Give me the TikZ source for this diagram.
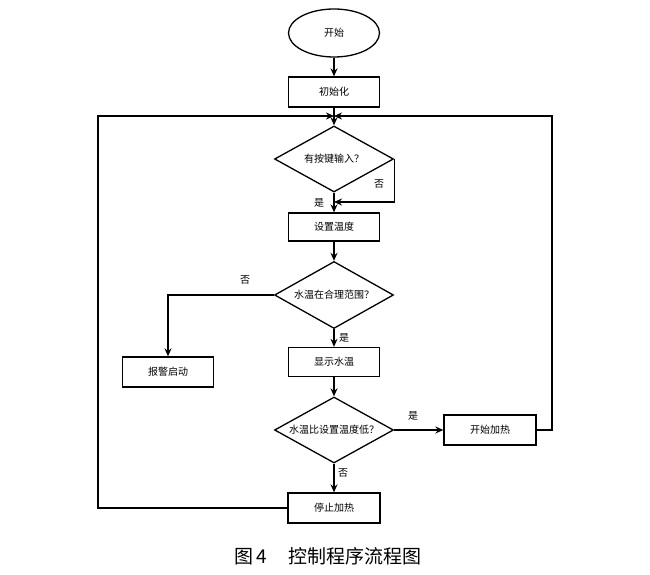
\documentclass[tikz,border=0pt]{standalone}
\usepackage{fontspec}
\setmainfont{Noto Sans CJK SC}
\usetikzlibrary{shapes.geometric,arrows.meta}
\tikzset{
  flow/.style={line width=1.3pt},
  arr/.style={flow,-{Stealth[length=8pt,width=7pt]}},
  procbox/.style={draw,flow,minimum width=91pt,minimum height=30pt,inner sep=0pt,font=\fontsize{10}{12}\selectfont},
  termnode/.style={draw,flow,ellipse,minimum width=91pt,minimum height=48pt,inner sep=0pt,font=\fontsize{10}{12}\selectfont},
  decide/.style={draw,flow,diamond,minimum width=119pt,minimum height=66pt,inner sep=0pt,font=\fontsize{10}{12}\selectfont},
  tag/.style={inner sep=0pt,font=\fontsize{10}{12}\selectfont}
}
\begin{document}
\begin{tikzpicture}[x=1pt,y=-1pt]
		\useasboundingbox (0,0) rectangle (650,575);
		
		% main column
		\node[termnode] (start) at (334,33) {开始};
		\node[procbox] (init) at (334,92) {初始化};
		\node[decide] (key) at (334,159) {\makebox[0pt]{有按键输入？}};
		\node[procbox, minimum height=28pt] (set) at (334,227) {设置温度};
		\node[decide, minimum height=67pt] (range) at (334,295) {\makebox[0pt]{水温在合理范围？}};
		\node[procbox, minimum height=29pt] (show) at (334,362) {显示水温};
		\node[decide] (low) at (334,430) {\makebox[0pt]{水温比设置温度低？}};
		\node[procbox, minimum width=92pt] (stop) at (334,508) {停止加热};
		
		% side boxes
		\node[procbox] (alarm) at (168,372) {报警启动};
		\node[procbox, minimum width=92pt] (heat) at (490,430) {开始加热};
		
		% loop corners
		\coordinate (lp) at (98,116);
		\coordinate (rp) at (552,116);
		\coordinate (jn) at (334,116);
		\coordinate (jy) at (334,202);
		
		\draw[arr] (start) -- (init);
		\draw[arr] (init) -- (key);
		\draw[arr] (key.south) -- (set.north);
		\draw[arr] (key.east) |- (jy);
		\draw[arr] (set) -- (range);
		\draw[arr] (range.west) -| (alarm.north);
		\draw[arr] (range) -- (show);
		\draw[arr] (show) -- (low);
		\draw[arr] (low) -- (heat);
		\draw[arr] (low) -- (stop);
		\draw[arr] (stop.west) -| (lp) -- (jn);
		\draw[arr] (heat.east) -| (rp) -- (jn);
		
		% yes / no
		\node[tag] (n1) at (379,184) {否};
		\node[tag] (y1) at (319,203) {是};
		\node[tag] (n2) at (245,280) {否};
		\node[tag] (y2) at (344,338) {是};
		\node[tag] (y3) at (413,416) {是};
		\node[tag] (n3) at (343,473) {否};
		
		\node[inner sep=0pt, font=\fontsize{19}{22}\selectfont] (cap) at (328,556) {图\,4\hspace{22pt}控制程序流程图};
	\end{tikzpicture}
\end{document}
